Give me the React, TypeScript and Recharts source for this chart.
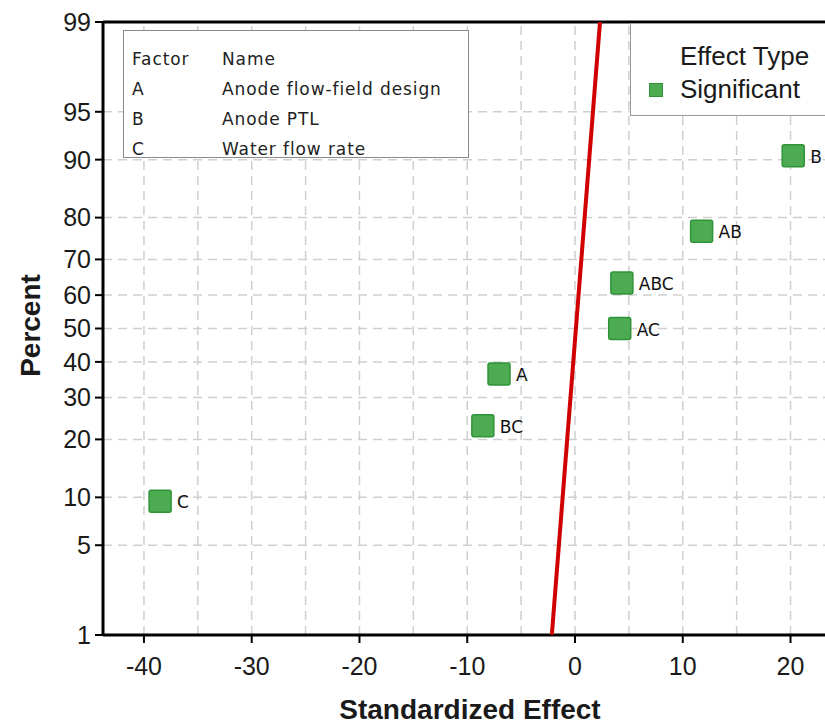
import React from 'react';
import { ScatterChart, Scatter, XAxis, YAxis, CartesianGrid, ReferenceLine } from 'recharts';

// effects (standardized effect vs normal percent)
const effectNames = ['C', 'BC', 'A', 'AC', 'ABC', 'AB', 'B'];
const effectValues = [-38.5, -8.55, -7.05, 4.15, 4.35, 11.75, 20.25];
const effectPercents = [9.5, 23, 36.5, 50, 63.5, 77, 90.5];

// fitted reference line (ends at 1% and 99%)
const fitEffects = [-2.15, 2.32];
const fitPercents = [1, 99];

const percentTicks = [1, 5, 10, 20, 30, 40, 50, 60, 70, 80, 90, 95, 99];
const effectTicks = [-40, -30, -20, -10, 0, 10, 20];
const effectGridLines = [-40, -35, -30, -25, -20, -15, -10, -5, 0, 5, 10, 15, 20];

const factorCodes = ['A', 'B', 'C'];
const factorNames = ['Anode flow-field design', 'Anode PTL', 'Water flow rate'];

// inverse normal cdf (Acklam) - turns percent into the probability-paper coordinate
function probit(p: number): number {
  const a = [-39.69683028665376, 220.9460984245205, -275.9285104469687, 138.357751867269, -30.66479806614716, 2.506628277459239];
  const b = [-54.47609879822406, 161.5858368580409, -155.6989798598866, 66.80131188771972, -13.28068155211977];
  const c = [-0.007784894002430293, -0.3223964580411365, -2.400758277161838, -2.549732539343734, 4.374664141464968, 2.938163982698783];
  const d = [0.007784695709041462, 0.3224671290700398, 2.445134137142996, 3.754408661907416];
  const pl = 0.02425;
  if (p < pl) {
    const q = Math.sqrt(-2 * Math.log(p));
    return (((((c[0] * q + c[1]) * q + c[2]) * q + c[3]) * q + c[4]) * q + c[5]) / ((((d[0] * q + d[1]) * q + d[2]) * q + d[3]) * q + 1);
  }
  if (p > 1 - pl) {
    const q = Math.sqrt(-2 * Math.log(1 - p));
    return -(((((c[0] * q + c[1]) * q + c[2]) * q + c[3]) * q + c[4]) * q + c[5]) / ((((d[0] * q + d[1]) * q + d[2]) * q + d[3]) * q + 1);
  }
  const q = p - 0.5;
  const r = q * q;
  return (((((a[0] * r + a[1]) * r + a[2]) * r + a[3]) * r + a[4]) * r + a[5]) * q / (((((b[0] * r + b[1]) * r + b[2]) * r + b[3]) * r + b[4]) * r + 1);
}

const toZ = (pct: number) => probit(pct / 100);

const points = effectNames.map((name, i) => ({ name, x: effectValues[i], z: toZ(effectPercents[i]) }));
const fitLine = fitEffects.map((x, i) => ({ x, z: toZ(fitPercents[i]) }));
const zTicks = percentTicks.map(toZ);
const zMin = toZ(1);
const zMax = toZ(99);

const TICK_FONT = '"Liberation Sans", Arial, sans-serif';
const LABEL_FONT = '"DejaVu Sans", Verdana, sans-serif';
const GREEN = '#4dab52';
const GREEN_EDGE = '#2f9438';

const formatPercent = (v: number) => {
  let best = 0;
  zTicks.forEach((t, i) => {
    if (Math.abs(t - v) < Math.abs(zTicks[best] - v)) best = i;
  });
  return String(percentTicks[best]);
};

const EffectPoint = (props: any) => {
  const { cx, cy, payload } = props;
  if (cx == null || cy == null) return <g />;
  return (
    <g>
      <rect x={cx - 11} y={cy - 11} width={22} height={22} rx={2} fill={GREEN} stroke={GREEN_EDGE} strokeWidth={1.5} />
      <text x={cx + 17} y={cy + 1} dominantBaseline="central" fontFamily={LABEL_FONT} fontSize={17} fill="#111">
        {payload.name}
      </text>
    </g>
  );
};

const App = () => {
  return (
    <div style={{ position: 'absolute', left: 0, top: 0, width: 825, height: 727, overflow: 'hidden', background: '#fff' }}>
      <ScatterChart width={825} height={727} margin={{ top: 22, right: 0, bottom: 0, left: 0 }}>
        <CartesianGrid vertical={false} stroke="#cfcfcf" strokeWidth={1.5} strokeDasharray="9 6" />
        {effectGridLines.map((v) => (
          <ReferenceLine key={v} x={v} stroke="#cfcfcf" strokeWidth={1.5} strokeDasharray="9 6" />
        ))}
        <XAxis
          dataKey="x"
          type="number"
          domain={[-43.8, 23.2]}
          ticks={effectTicks}
          allowDataOverflow
          interval={0}
          height={92}
          axisLine={{ stroke: '#000', strokeWidth: 3 }}
          tickLine={{ stroke: '#000', strokeWidth: 2 }}
          tickSize={8}
          tickMargin={14}
          tick={{ fill: '#1a1a1a', fontSize: 25, fontFamily: TICK_FONT }}
          label={{
            content: (p: any) => {
              const vb = p.viewBox || { x: 103, y: 635, width: 722, height: 92 };
              return (
                <text x={vb.x + vb.width / 2 + 6} y={vb.y + 74} textAnchor="middle" dominantBaseline="central"
                  fontFamily={TICK_FONT} fontWeight="bold" fontSize={28} fill="#1a1a1a">
                  Standardized Effect
                </text>
              );
            },
          }}
        />
        <YAxis
          dataKey="z"
          type="number"
          domain={[zMin, zMax]}
          ticks={zTicks}
          allowDataOverflow
          interval={0}
          width={103}
          tickFormatter={formatPercent}
          axisLine={{ stroke: '#000', strokeWidth: 3 }}
          tickLine={{ stroke: '#000', strokeWidth: 2 }}
          tickSize={8}
          tickMargin={4}
          tick={{ fill: '#1a1a1a', fontSize: 25, fontFamily: TICK_FONT }}
          label={{
            content: (p: any) => {
              const vb = p.viewBox || { x: 0, y: 22, width: 103, height: 613 };
              const cy = vb.y + vb.height / 2 - 3;
              return (
                <text x={30} y={cy} textAnchor="middle" dominantBaseline="central" transform={`rotate(-90 30 ${cy})`}
                  fontFamily={TICK_FONT} fontWeight="bold" fontSize={28} fill="#1a1a1a">
                  Percent
                </text>
              );
            },
          }}
        />
        <Scatter
          data={fitLine}
          line={{ stroke: '#d10000', strokeWidth: 4 }}
          shape={() => <g />}
          isAnimationActive={false}
        />
        <Scatter data={points} shape={EffectPoint} isAnimationActive={false} />
        <ReferenceLine y={zMax} stroke="#000" strokeWidth={3} />
      </ScatterChart>

      {/* factor table */}
      <div
        style={{
          position: 'absolute', left: 123, top: 30, width: 344, height: 126, border: '1px solid #8a8a8a',
          background: '#fff', fontFamily: LABEL_FONT, fontSize: 17, color: '#222', letterSpacing: 0.9,
        }}
      >
        <div style={{ position: 'absolute', left: 8, top: 13, lineHeight: '30px' }}>
          <div>Factor</div>
          {factorCodes.map((c) => <div key={c}>{c}</div>)}
        </div>
        <div style={{ position: 'absolute', left: 98, top: 13, lineHeight: '30px', whiteSpace: 'nowrap' }}>
          <div>Name</div>
          {factorNames.map((n) => <div key={n}>{n}</div>)}
        </div>
      </div>

      {/* effect type legend */}
      <div
        style={{
          position: 'absolute', left: 630, top: 23, width: 220, height: 91, border: '1px solid #9a9a9a',
          background: '#fff', fontFamily: TICK_FONT, fontSize: 26, color: '#1a1a1a',
        }}
      >
        <div style={{ position: 'absolute', left: 49, top: 18, lineHeight: '28px', whiteSpace: 'nowrap' }}>Effect Type</div>
        <div style={{ position: 'absolute', left: 18, top: 59, width: 12, height: 12, background: GREEN, border: `1px solid ${GREEN_EDGE}` }} />
        <div style={{ position: 'absolute', left: 49, top: 51, lineHeight: '28px', whiteSpace: 'nowrap' }}>Significant</div>
      </div>
    </div>
  );
};

export default App;
